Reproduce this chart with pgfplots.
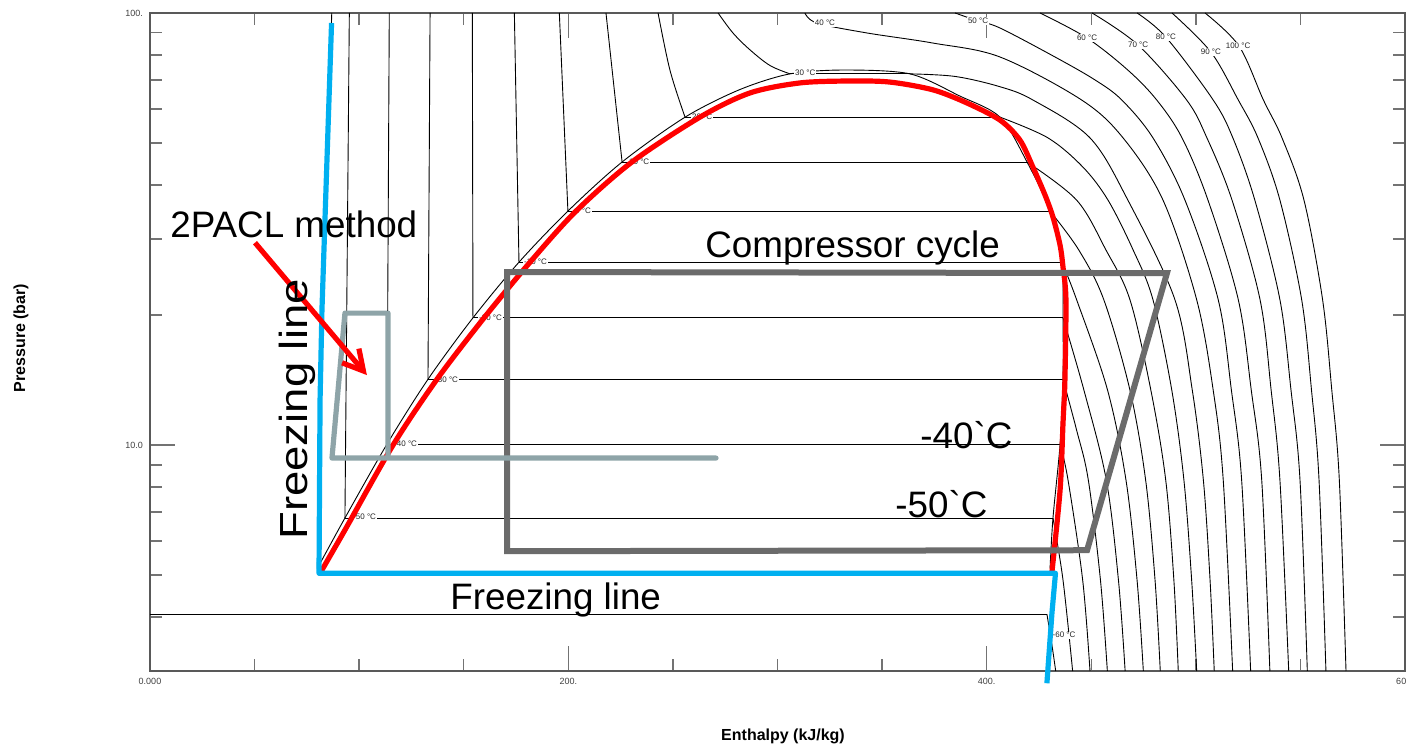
\documentclass[border=0pt]{standalone}
\usepackage{fontspec}
\setmainfont{Liberation Sans}
\newfontfamily\annfont{Liberation Sans}[Ligatures=TeXOff]
\usepackage{pgfplots}
\pgfplotsset{compat=1.18}
\usetikzlibrary{arrows.meta}
\definecolor{fzblue}{RGB}{0,176,240}
\definecolor{cycgray}{RGB}{107,107,107}
\definecolor{pacl}{RGB}{142,164,168}
\begin{document}
\begin{tikzpicture}
\pgfplotsset{iso/.style={black, line width=0.45pt, no marks},
  isos/.style={black, line width=0.45pt, no marks, smooth, tension=0.55}}
\tikzset{isolab/.style={font=\fontsize{4}{4}\selectfont, fill=white, inner sep=0.4pt, text=black!85},
  ann/.style={font=\annfont\fontsize{18.4}{20}\selectfont, anchor=base west, inner sep=0pt}}
\begin{axis}[
  name=ax, scale only axis, width=627.5pt, height=329pt,
  xmin=0, xmax=600, ymin=3, ymax=100, ymode=log,
  clip=false,
  axis line style={draw=black!65, line width=0.7pt},
  xtick={0,200,400,600},
  xticklabels={\mbox{0.000},\mbox{200.},\mbox{400.},\mbox{600.}},
  minor xtick={50,100,150,250,300,350,450,500,550},
  ytick={10,100},
  yticklabels={\mbox{10.0},\mbox{100.}},
  minor ytick={4,5,6,7,8,9,20,30,40,50,60,70,80,90},
  tick align=inside,
  major tick length=12.5pt, minor tick length=6pt,
  every tick/.style={black!55, line width=0.7pt},
  tick label style={font=\fontsize{4.5}{5}\selectfont, text=black!75},
  /pgf/number format/assume math mode=true,
]
% ---- saturation dome (thin)
\addplot[isos, tension=0.5] coordinates {(80.0,5.18) (93.2,6.78) (113.3,10.05) (132.9,14.2) (154.4,19.7) (176.4,26.5) (199.8,34.8) (225.7,45.2) (255.8,57.4) (282,66.5) (306.0,72.3) (332,73.8) (363.3,72.3) (387,64.3) (406.4,57.4) (419.3,45.2) (430.3,34.8) (436.0,26.5) (436.5,19.7) (436.5,14.2) (435.1,10.05) (431.7,6.78) (430.3,5.18)};
% ---- two-phase isotherms
\addplot[iso] coordinates {(0,4.06) (428.8,4.06)};
\addplot[iso] coordinates {(93.2,6.78) (431.7,6.78)};
\addplot[iso] coordinates {(113.3,10.05) (435.1,10.05)};
\addplot[iso] coordinates {(132.9,14.2) (436.5,14.2)};
\addplot[iso] coordinates {(154.4,19.7) (436.5,19.7)};
\addplot[iso] coordinates {(176.4,26.5) (436.0,26.5)};
\addplot[iso] coordinates {(199.8,34.8) (430.3,34.8)};
\addplot[iso] coordinates {(225.7,45.2) (419.3,45.2)};
\addplot[iso] coordinates {(255.8,57.4) (406.4,57.4)};
\addplot[iso] coordinates {(306.0,72.3) (363.3,72.3)};
% ---- liquid isotherms
\addplot[iso] coordinates {(86.9,100) (82.2,20.5) (80.0,5.18)};
\addplot[iso] coordinates {(95.3,100) (93.2,6.78)};
\addplot[iso] coordinates {(114.4,100) (113.3,10.05)};
\addplot[iso] coordinates {(133.9,100) (132.9,14.2)};
\addplot[iso] coordinates {(154.1,100) (154.4,19.7)};
\addplot[iso] coordinates {(174.2,100) (176.4,26.5)};
\addplot[iso] coordinates {(195.7,100) (199.8,34.8)};
\addplot[iso] coordinates {(218.0,100) (225.7,45.2)};
\addplot[isos] coordinates {(242.9,100) (248.6,73.7) (255.8,57.4)};
\addplot[isos] coordinates {(271.6,100) (278.7,89.9) (286.8,82.2) (296.4,75.6) (306.0,72.3)};
% ---- vapour / supercritical isotherms
\addplot[isos] coordinates {(428.8,4.06) (431.0,3.5) (433.0,3.0)};
\addplot[isos] coordinates {(431.7,6.78) (436.5,4.87) (441.1,3.0)};
\addplot[isos] coordinates {(435.1,10.05) (438.9,8.3) (445.9,4.87) (449.4,3.0)};
\addplot[isos] coordinates {(436.5,14.2) (443.0,10.83) (448.6,8.3) (454.4,4.87) (457.7,3.0)};
\addplot[isos] coordinates {(436.5,19.7) (446.5,13.4) (457.2,8.3) (463.0,4.87) (466.2,3.0)};
\addplot[isos] coordinates {(436.0,26.5) (443.0,21.7) (457.8,13.4) (466.6,8.3) (471.9,4.87) (474.9,3.0)};
\addplot[isos] coordinates {(430.3,34.8) (444.0,28.3) (456.0,21.7) (468.5,13.4) (476.0,8.3) (480.5,4.87) (483.0,3.0)};
\addplot[isos] coordinates {(419.3,45.2) (443.0,36.9) (457.0,28.3) (468.5,21.7) (478.5,13.4) (485.6,8.3) (489.5,4.87) (491.6,3.0)};
\addplot[isos] coordinates {(406.4,57.4) (429.3,51.4) (446.0,44.0) (458.0,36.9) (470.0,28.3) (479.5,21.7) (488.5,13.4) (494.3,8.3) (498.0,4.87) (500.4,3.0)};
\addplot[isos] coordinates {(363.3,72.3) (385.0,71.3) (406.4,67.5) (422.1,62.9) (449.4,51.4) (467.5,36.9) (490.0,21.7) (498.3,13.4) (503.6,8.3) (506.8,4.87) (508.8,3.0)};
\addplot[isos] coordinates {(313.1,100) (318.8,94.8) (342.8,89.9) (374.3,85.2) (406.4,79.1) (445.4,62.9) (465.2,51.4) (484.3,36.9) (500.4,21.7) (508.3,13.4) (513.1,8.3) (517.6,3.0)};
\addplot[isos] coordinates {(384.9,100) (395.9,95.8) (406.4,92.3) (432.7,79.1) (451.8,70.0) (464.6,62.9) (479.5,51.4) (494.8,36.9) (510.7,21.7) (517.0,13.4) (521.9,8.3) (526.2,3.0)};
\addplot[isos] coordinates {(425.5,100) (448.0,87.5) (467.6,73.7) (481.3,62.9) (493.4,51.4) (505.8,36.9) (520.3,21.7) (526.5,13.4) (531.5,8.3) (535.4,3.0)};
\addplot[isos] coordinates {(450.4,100) (472.4,84.3) (495.6,62.9) (505.3,51.4) (517.3,36.9) (530.7,21.7) (536.0,13.4) (540.2,8.3) (544.4,3.0)};
\addplot[isos] coordinates {(471.9,100) (485.7,87.9) (508.3,62.9) (517.7,51.4) (528.2,36.9) (540.2,21.7) (545.5,13.4) (549.8,8.3) (553.3,3.0)};
\addplot[isos] coordinates {(488.6,100) (507.2,81.2) (520.3,62.9) (529.7,51.4) (540.2,36.9) (550.6,21.7) (555.3,13.4) (558.9,8.3) (562.2,3.0)};
\addplot[isos] coordinates {(504.4,100) (520.6,83.9) (532.3,62.9) (541.2,51.4) (551.7,36.9) (560.6,21.7) (565.0,13.4) (568.6,8.3) (571.8,3.0)};
% ---- isotherm labels
\node[isolab, anchor=west] at (axis cs:96.6,6.81) {-50 °C};
\node[isolab, anchor=west] at (axis cs:116.2,10.05) {-40 °C};
\node[isolab, anchor=west] at (axis cs:135.8,14.2) {-30 °C};
\node[isolab, anchor=west] at (axis cs:156.8,19.7) {-20 °C};
\node[isolab, anchor=west] at (axis cs:178.3,26.5) {-10 °C};
\node[isolab, anchor=west] at (axis cs:202.7,34.8) {0 °C};
\node[isolab, anchor=west] at (axis cs:228.5,45.2) {10 °C};
\node[isolab, anchor=west] at (axis cs:258.6,57.4) {20 °C};
\node[isolab, anchor=west] at (axis cs:307.9,72.6) {30 °C};
\node[isolab] at (axis cs:322.7,94.8) {40 °C};
\node[isolab] at (axis cs:395.9,95.8) {50 °C};
\node[isolab] at (axis cs:448.0,87.5) {60 °C};
\node[isolab] at (axis cs:472.4,84.3) {70 °C};
\node[isolab] at (axis cs:485.7,87.9) {80 °C};
\node[isolab] at (axis cs:507.2,81.2) {90 °C};
\node[isolab] at (axis cs:520.2,83.9) {100 °C};
\node[isolab, anchor=west] at (axis cs:431.0,3.63) {-60 °C};
% ---- red dome
\addplot[red, line width=2.6pt, smooth, tension=0.5, line join=round, line cap=round] coordinates {(81.3,5.05) (93.2,6.36) (116.2,10.0) (137.2,14.2) (159.7,19.7) (181.7,26.5) (203.7,34.8) (230.4,45.2) (262.9,57.4) (286.8,65.3) (310.8,68.9) (334.7,69.6) (353.8,69.2) (374.3,66.4) (390.6,61.9) (406.4,56.5) (415.9,50.8) (422.1,44.0) (427.9,37.9) (431.7,33.7) (435.1,29.0) (436.5,25.8) (437.9,21.7) (437.4,14.1) (436.5,11.24) (435.1,7.87) (431.2,5.08)};
% ---- compressor cycle
\addplot[cycgray, line width=3pt, line join=miter] coordinates {(170.7,25.15) (486.2,25.0) (448.0,5.71) (170.7,5.68)} -- cycle;
% ---- 2PACL box
\addplot[pacl, line width=2.6pt, line join=round, line cap=round] coordinates {(270.6,9.33) (87.0,9.33) (93.2,20.2) (113.8,20.2) (113.8,9.33)};
% ---- freezing lines
\addplot[fzblue, line width=2.6pt, line join=round] coordinates {(86.8,94.8) (82.2,20.5) (81.3,12.7) (80.8,5.05) (432.9,5.05) (431.2,4.08) (428.8,2.81)};
% ---- arrow
\addplot[red, line width=2.6pt, -{Straight Barb[length=10pt,width=11pt]}] coordinates {(50.2,29.4) (103.7,14.52)};
% ---- annotations
\node[ann] at (axis cs:9.56,30.3) {2PACL method};
\node[ann] at (axis cs:265.3,27.1) {Compressor cycle};
\node[ann] at (axis cs:143.4,4.17) {Freezing line};
\node[ann, font=\annfont\fontsize{19.6}{21}\selectfont, rotate=90, xscale=1.16] at (axis cs:75.5,6.03) {Freezing line};
\node[ann] at (axis cs:368.1,9.84) {-40`C};
\node[ann] at (axis cs:356.2,6.81) {-50`C};
% ---- axis labels
\node[font=\bfseries\fontsize{8}{9}\selectfont, rotate=90] at (rel axis cs:-0.1028,0.506) {Pressure (bar)};
\node[font=\bfseries\fontsize{8}{9}\selectfont] at (rel axis cs:0.5044,-0.0988) {Enthalpy (kJ/kg)};
\end{axis}
\pgfresetboundingbox
\path[use as bounding box] ([shift={(-75pt,-38pt)}]ax.south west) rectangle ([shift={(628pt,335.5pt)}]ax.south west);
\end{tikzpicture}
\end{document}
